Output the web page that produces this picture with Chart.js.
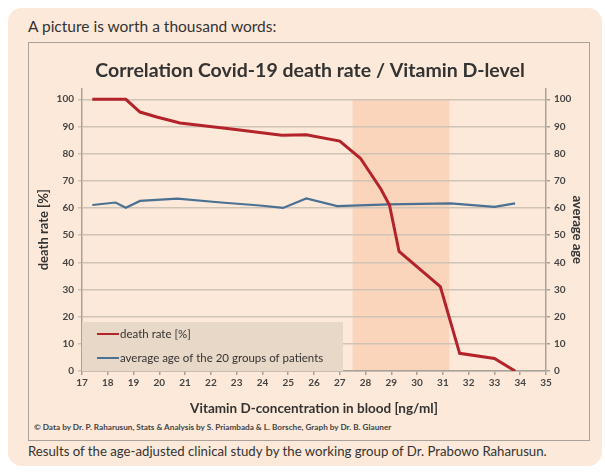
<!DOCTYPE html>
<html>
<head>
<meta charset="utf-8">
<script src="https://cdn.jsdelivr.net/npm/chart.js@4"></script>
<style>
  body { margin: 0; background: #fff; width: 605px; height: 475px; position: relative; overflow: hidden; font-family: Lato, "Open Sans", sans-serif; }
  #panel { position: absolute; left: 8px; top: 8px; width: 594px; height: 458px; background: #fde9d9; border-radius: 14px; }
  #frame { position: absolute; left: 28px; top: 42px; width: 560px; height: 397px; border: 1.5px solid #a9a29b; }
  .txt { position: absolute; color: #333; white-space: nowrap; }
  #head { left: 28px; top: 17px; font-size: 15.5px; }
  #foot { left: 28px; top: 443px; font-size: 13.2px; }
  #credit { left: 34px; top: 422px; font-size: 8.2px; font-weight: bold; color: #444; }
  canvas { position: absolute; left: 0; top: 0; }
</style>
</head>
<body>
<div id="panel"></div>
<div id="frame"></div>
<div class="txt" id="head">A picture is worth a thousand words:</div>
<div class="txt" id="credit">© Data by Dr. P. Raharusun, Stats &amp; Analysis by S. Priambada &amp; L. Borsche, Graph by Dr. B. Glauner</div>
<div class="txt" id="foot">Results of the age-adjusted clinical study by the working group of Dr. Prabowo Raharusun.</div>
<canvas id="chart" width="605" height="475"></canvas>
<script>
// death rate curve (vitamin D level in ng/ml -> death rate %)
var deathX = [17.4, 18.7, 19.25, 19.9, 20.8, 22.8, 24.75, 25.7, 27.0, 27.8, 28.6, 28.93, 29.3, 30.9, 31.65, 33.0, 33.8];
var deathY = [100, 100, 95.3, 93.5, 91.3, 89.1, 86.8, 86.9, 84.6, 78.3, 66.9, 61, 44, 31.1, 6.5, 4.6, 0];

// average age of the patient groups
var ageX = [17.4, 18.3, 18.7, 19.25, 20.7, 22.4, 23.9, 24.8, 25.7, 26.9, 28.9, 31.3, 33.0, 33.8];
var ageY = [61.1, 62, 60.1, 62.6, 63.4, 62, 60.9, 60.0, 63.5, 60.7, 61.3, 61.7, 60.4, 61.7];

var seriesNames = ["death rate [%]", "average age of the 20 groups of patients"];
var band = [27.5, 31.25]; // highlighted vitamin D range

function pts(xs, ys) {
  return xs.map(function (x, i) { return { x: x, y: ys[i] }; });
}

var RED = "#b3242a";
var BLUE = "#4a7094";

var bgPlugin = {
  id: "extras",
  beforeDraw: function (chart) {
    var c = chart.ctx, x = chart.scales.x, y = chart.scales.y;
    var x0 = x.getPixelForValue(band[0]), x1 = x.getPixelForValue(band[1]);
    c.save();
    c.fillStyle = "#fbd5bb";
    c.fillRect(x0, y.getPixelForValue(100), x1 - x0, y.getPixelForValue(0) - y.getPixelForValue(100));
    c.restore();
  },
  beforeDatasetsDraw: function (chart) {
    var c = chart.ctx, y = chart.scales.y;
    var left = chart.chartArea.left, bottom = y.getPixelForValue(0);
    c.save();
    c.fillStyle = "#e8d8c8";
    c.fillRect(left, bottom - 49, 261, 49);
    var colors = [RED, BLUE];
    c.font = "11.5px Lato";
    c.textBaseline = "middle";
    for (var i = 0; i < 2; i++) {
      var ly = bottom - 37 + i * 24;
      c.strokeStyle = colors[i];
      c.lineWidth = 2;
      c.beginPath();
      c.moveTo(left + 15, ly);
      c.lineTo(left + 37, ly);
      c.stroke();
      c.fillStyle = "#333";
      c.fillText(seriesNames[i], left + 38, ly);
    }
    c.restore();
  }
};

var tickFont = { family: "Lato", size: 10, weight: "bold" };

new Chart(document.getElementById("chart"), {
  type: "line",
  data: {
    datasets: [
      {
        label: seriesNames[0],
        data: pts(deathX, deathY),
        borderColor: RED,
        borderWidth: 3,
        pointRadius: 0,
        yAxisID: "y"
      },
      {
        label: seriesNames[1],
        data: pts(ageX, ageY),
        borderColor: BLUE,
        borderWidth: 2.2,
        pointRadius: 0,
        yAxisID: "y2"
      }
    ]
  },
  options: {
    responsive: false,
    animation: false,
    layout: { padding: { left: 30, right: 15, top: 49, bottom: 58 } },
    plugins: {
      legend: { display: false },
      tooltip: { enabled: false },
      title: {
        display: true,
        text: "Correlation Covid-19 death rate / Vitamin D-level",
        color: "#333",
        font: { family: "Lato", size: 19.5, weight: "bold" },
        padding: { top: 10, bottom: 6 }
      }
    },
    scales: {
      x: {
        type: "linear",
        min: 17,
        max: 35,
        ticks: { stepSize: 1, color: "#444", font: tickFont, padding: 2 },
        grid: { drawOnChartArea: false, tickLength: 4, color: "#a9a29b", lineWidth: 1.5 },
        border: { color: "#a9a29b", width: 1.5 },
        title: {
          display: true,
          text: "Vitamin D-concentration in blood [ng/ml]",
          color: "#333",
          font: { family: "Lato", size: 13.5, weight: "bold" },
          padding: 0
        },
        afterFit: function (s) { s.height = 46; }
      },
      y: {
        position: "left",
        min: 0,
        max: 104,
        ticks: { stepSize: 10, includeBounds: false, color: "#444", font: tickFont, padding: 4 },
        grid: { tickLength: 4, color: "#cfc3b6", lineWidth: 1.5 },
        border: { color: "#a9a29b", width: 1.5 },
        title: {
          display: true,
          text: "death rate [%]",
          color: "#333",
          font: { family: "Lato", size: 13, weight: "bold" },
          padding: { top: 6 }
        },
        afterFit: function (s) { s.width = 52; }
      },
      y2: {
        position: "right",
        min: 0,
        max: 104,
        ticks: { stepSize: 10, includeBounds: false, color: "#444", font: tickFont, padding: 4 },
        grid: { drawOnChartArea: false, tickLength: 4, color: "#a9a29b", lineWidth: 1.5 },
        border: { color: "#a9a29b", width: 1.5 },
        title: {
          display: true,
          text: "average age",
          color: "#333",
          font: { family: "Lato", size: 13, weight: "bold" },
          padding: { top: 5 }
        },
        afterFit: function (s) { s.width = 44; }
      }
    }
  },
  plugins: [bgPlugin]
});
</script>
</body>
</html>
